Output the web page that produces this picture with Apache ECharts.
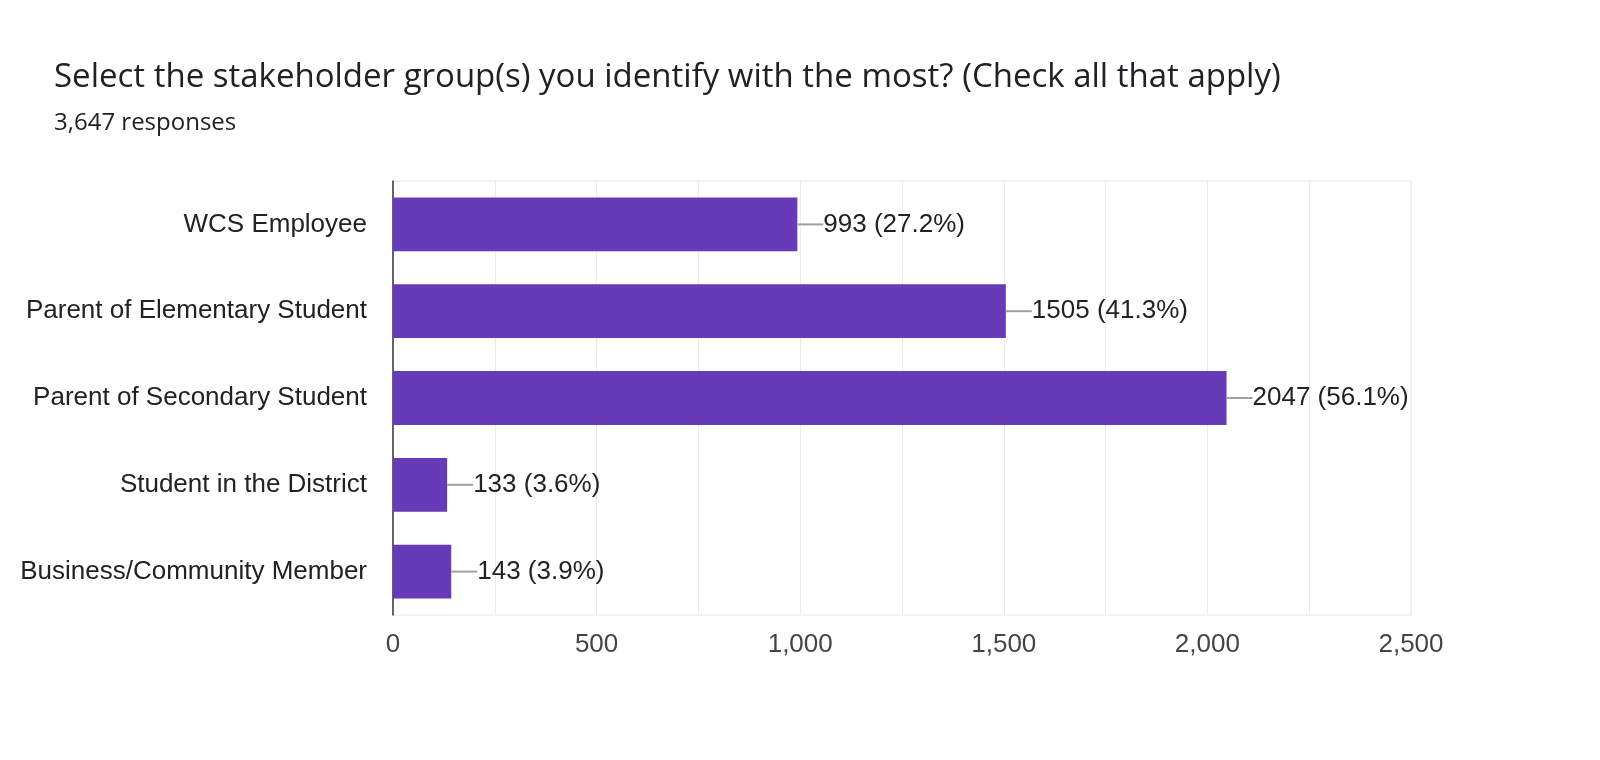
<!DOCTYPE html>
<html lang="en">
<head>
    <meta charset="UTF-8">
    <title>Stakeholder groups</title>
    <script src="https://cdn.jsdelivr.net/npm/echarts@6.0.0/dist/echarts.min.js"></script>
    <style>
        body {
            margin: 0;
            padding: 0;
            background: #fff;
        }
        #chart {
            width: 1600px;
            height: 760px;
        }
    </style>
</head>
<body>
    <div id="chart"></div>
    <script>
        var categories = ['WCS Employee', 'Parent of Elementary Student', 'Parent of Secondary Student', 'Student in the District', 'Business/Community Member'];
        var counts = [993, 1505, 2047, 133, 143];
        var percents = ['27.2%', '41.3%', '56.1%', '3.6%', '3.9%'];
        var title = 'Select the stakeholder group(s) you identify with the most? (Check all that apply)';
        var subtitle = '3,647 responses';

        var labelFont = 'Liberation Sans, Arial, sans-serif';
        var chart = echarts.init(document.getElementById('chart'));
        chart.setOption({
            animation: false,
            title: {
                text: title,
                subtext: subtitle,
                left: 49,
                top: 56,
                itemGap: 17,
                textStyle: { fontFamily: 'Open Sans', fontSize: 33, fontWeight: 'normal', color: '#202124' },
                subtextStyle: { fontFamily: 'Open Sans', fontSize: 24, color: '#202124' }
            },
            grid: {
                left: 393, right: 189, top: 181, bottom: 145,
                show: true, borderColor: '#e6e6e6', borderWidth: 1
            },
            xAxis: {
                type: 'value',
                min: 0, max: 2500, interval: 250,
                axisLine: { show: false },
                axisTick: { show: false },
                splitLine: { lineStyle: { color: '#ececec', width: 1 } },
                axisLabel: {
                    margin: 17,
                    fontFamily: labelFont,
                    fontSize: 26,
                    color: '#444',
                    formatter: function (v) {
                        return v % 500 === 0 ? v.toLocaleString('en-US') : '';
                    }
                }
            },
            yAxis: {
                type: 'category',
                inverse: true,
                data: categories,
                axisLine: { show: true, lineStyle: { color: '#333', width: 1.5 } },
                axisTick: { show: false },
                axisLabel: {
                    margin: 26,
                    fontFamily: labelFont,
                    fontSize: 26,
                    color: '#222'
                }
            },
            series: [{
                type: 'bar',
                data: counts,
                barCategoryGap: '38%',
                itemStyle: { color: '#673ab7' },
                label: {
                    show: true,
                    position: 'right',
                    distance: 0,
                    formatter: function (p) {
                        return '{l|}{t|' + p.value + ' (' + percents[p.dataIndex] + ')}';
                    },
                    rich: {
                        l: { width: 26, height: 2, backgroundColor: '#a0a0a0', verticalAlign: 'middle' },
                        t: { fontFamily: labelFont, fontSize: 26, color: '#222', verticalAlign: 'middle' }
                    }
                }
            }]
        });
    </script>
</body>
</html>
